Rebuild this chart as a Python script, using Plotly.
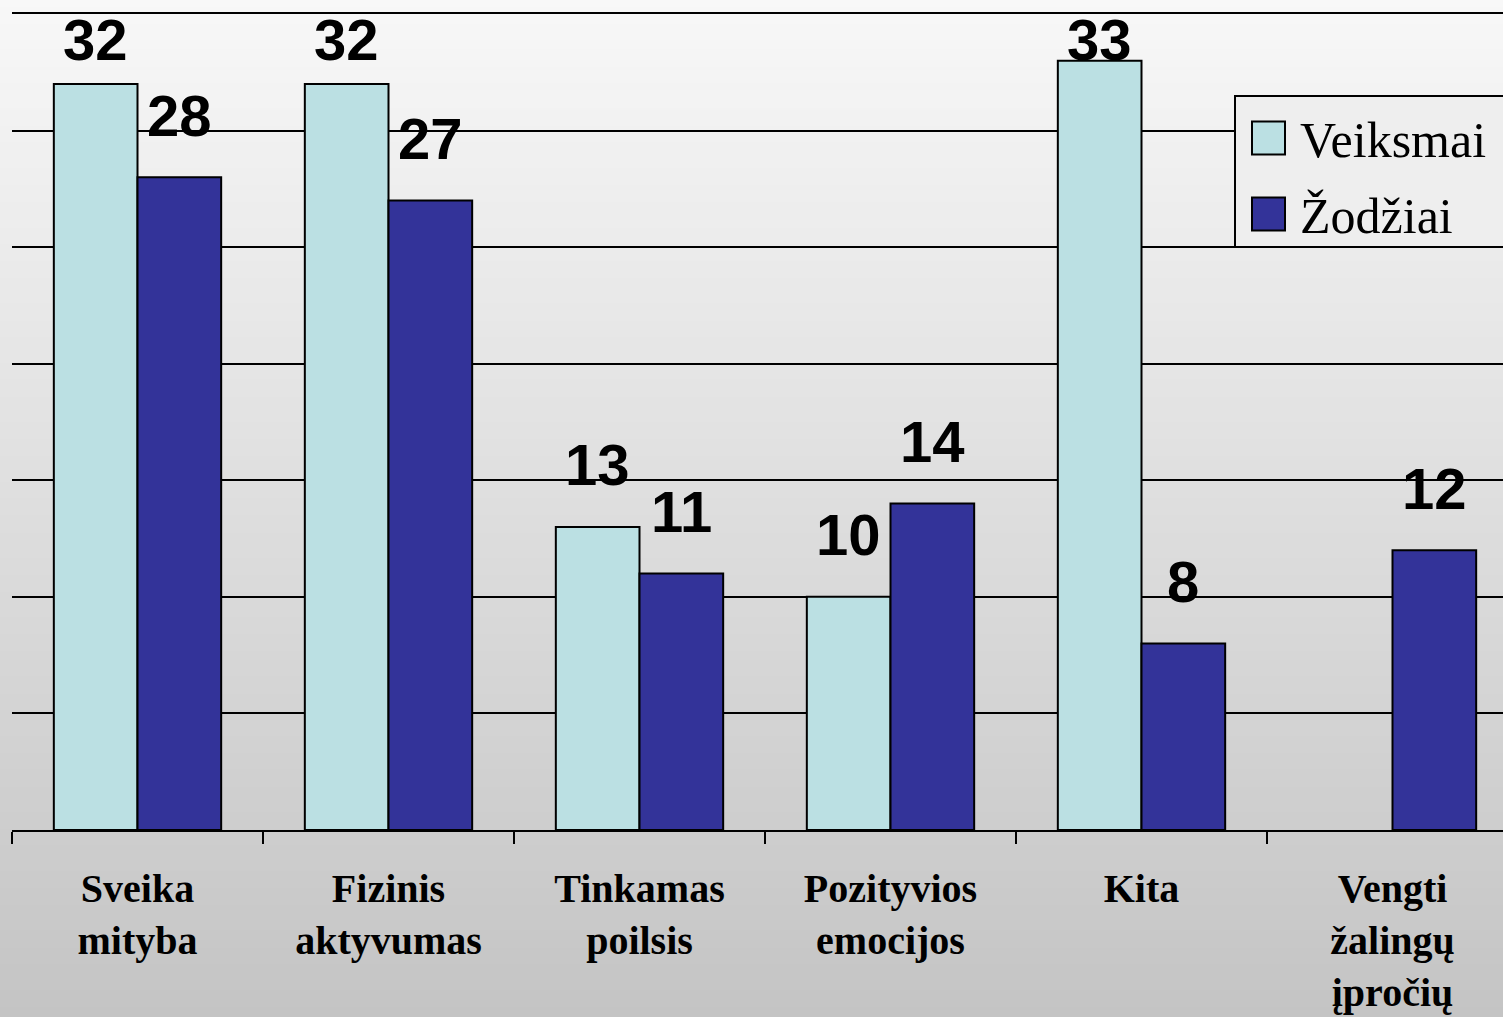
import plotly.graph_objects as go

categories = ["Sveika<br>mityba", "Fizinis<br>aktyvumas", "Tinkamas<br>poilsis",
              "Pozityvios<br>emocijos", "Kita", "Vengti<br>žalingų<br>įpročių"]
veiksmai = [32, 32, 13, 10, 33, None]
zodziai = [28, 27, 11, 14, 8, 12]
series_names = ["Veiksmai", "Žodžiai"]
colors = ["#BBE0E3", "#333399"]

W, H = 1503, 1017
ML, MR, MT, MB = 12, 0, 14, 187
plot_w = W - ML - MR
plot_h = H - MT - MB
cat_px = 251.0
y_max = 35
bargap = 1 / 3

fig = go.Figure()
for name, vals, col in zip(series_names, [veiksmai, zodziai], colors):
    fig.add_trace(go.Bar(
        x=categories, y=vals, name=name,
        marker=dict(color=col, line=dict(color="black", width=2)),
        showlegend=False,
    ))

# gradient background strips
n = 120
shapes = []
for i in range(n):
    t0 = i / n
    t1 = (i + 1) / n
    tm = (t0 + t1) / 2
    g = int(round(248 - (248 - 196) * tm))
    py0 = t0 * H
    py1 = t1 * H
    shapes.append(dict(
        type="rect", xref="paper", yref="paper", layer="below",
        x0=-ML / plot_w - 0.01, x1=1.01,
        y0=(H - MB - py1) / plot_h - (0.01 if i == n - 1 else 0),
        y1=(H - MB - py0) / plot_h + (0.01 if i == 0 else 0.002),
        fillcolor=f"rgb({g},{g},{g})", line=dict(width=0),
    ))

def px_x(px):
    return (px - ML) / plot_w

def px_y(py):
    return (H - MB - py) / plot_h

# legend (drawn manually)
shapes.append(dict(type="rect", xref="paper", yref="paper", layer="above",
                   x0=px_x(1235), x1=px_x(1520), y0=px_y(247), y1=px_y(96),
                   fillcolor="#eeeeee", line=dict(color="black", width=2)))
legend_rows = [138, 214]
annotations = []
for name, col, cy in zip(series_names, colors, legend_rows):
    shapes.append(dict(type="rect", xref="paper", yref="paper", layer="above",
                       x0=px_x(1252), x1=px_x(1285), y0=px_y(cy + 16.5), y1=px_y(cy - 16.5),
                       fillcolor=col, line=dict(color="black", width=2)))
    annotations.append(dict(xref="paper", yref="paper", x=px_x(1298), y=px_y(cy + 2),
                            xanchor="left", yanchor="middle", text=name, showarrow=False,
                            font=dict(family="Liberation Serif", size=50, color="black")))

# value labels
unit_px = plot_h / y_max
offset = (1 - bargap) / 4
for si, vals in enumerate([veiksmai, zodziai]):
    for ci, v in enumerate(vals):
        if v is None:
            continue
        yc = min(v + 62 / unit_px, y_max - 25 / unit_px)
        annotations.append(dict(
            x=ci + (offset if si else -offset), y=yc, xref="x", yref="y",
            text=str(v), showarrow=False, xanchor="center", yanchor="middle",
            font=dict(family="Liberation Sans", size=58, color="black", weight="bold"),
        ))

fig.update_layout(
    width=W, height=H,
    margin=dict(l=ML, r=MR, t=MT, b=MB, pad=0),
    paper_bgcolor="rgba(0,0,0,0)", plot_bgcolor="rgba(0,0,0,0)",
    barmode="group", bargap=bargap, bargroupgap=0,
    shapes=shapes, annotations=annotations,
    xaxis=dict(
        type="category", range=[-0.5, -0.5 + plot_w / cat_px],
        tickson="boundaries", ticks="outside", ticklen=12, tickwidth=2, tickcolor="black",
        showline=True, linecolor="black", linewidth=2, showgrid=False, mirror=True,
        tickfont=dict(family="Liberation Serif", size=40, color="black", weight="bold"),
        ticklabelstandoff=22,
    ),
    yaxis=dict(
        range=[0, y_max], dtick=5, showgrid=True, gridcolor="black", gridwidth=2,
        zeroline=False, showticklabels=False, ticks="", showline=False,
    ),
)

fig.write_html("out.html", config={"displayModeBar": False},
               post_script="document.body.style.margin='0';document.body.style.overflow='hidden';")
